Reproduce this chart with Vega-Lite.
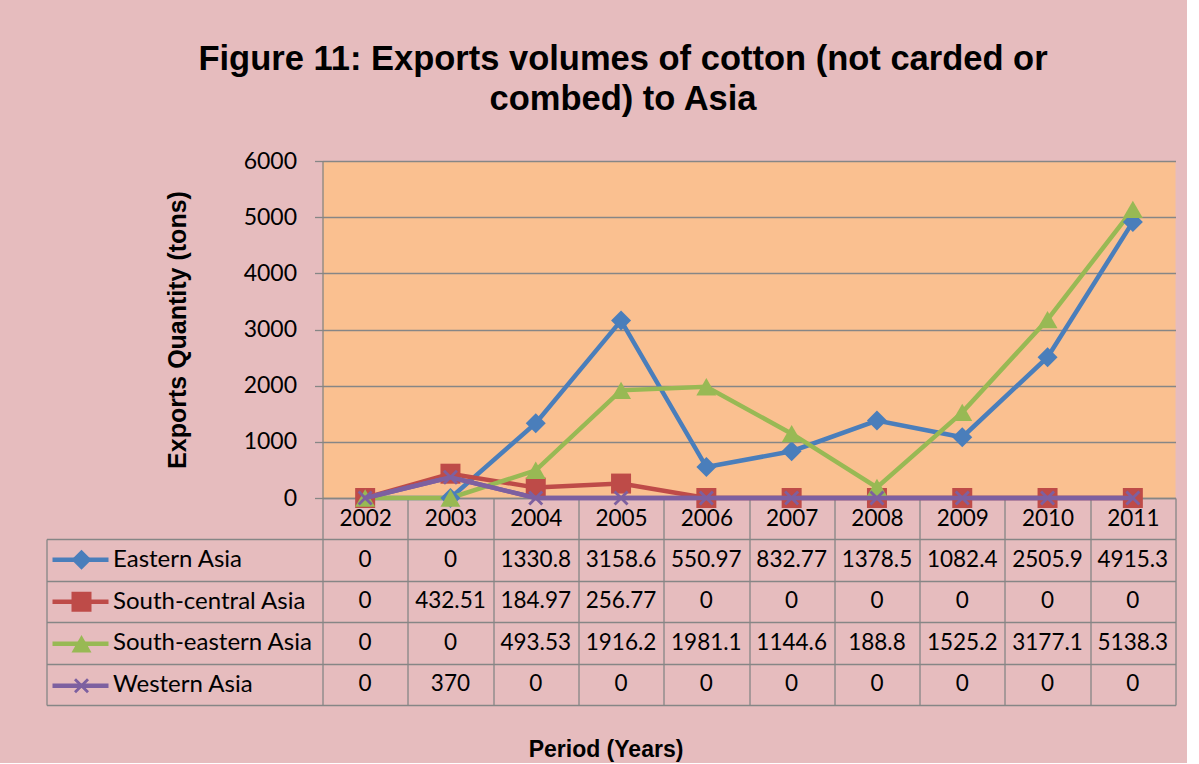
{
  "$schema": "https://vega.github.io/schema/vega-lite/v6.json",
  "background": "#e6bcbe",
  "padding": {"left": 45.5, "top": 41, "right": 10, "bottom": 2},
  "bounds": "flush",
  "spacing": 41,
  "title": {
    "text": ["Figure 11: Exports volumes of cotton (not carded or", "combed) to Asia"],
    "font": "Liberation Sans",
    "fontSize": 34.5,
    "fontWeight": "bold",
    "color": "#000000",
    "lineHeight": 40,
    "anchor": "middle",
    "dx": 12,
    "offset": 33
  },
  "datasets": {
    "rows": [
      {"year": "2002", "series": "Eastern Asia", "value": 0},
      {"year": "2003", "series": "Eastern Asia", "value": 0},
      {"year": "2004", "series": "Eastern Asia", "value": 1330.8},
      {"year": "2005", "series": "Eastern Asia", "value": 3158.6},
      {"year": "2006", "series": "Eastern Asia", "value": 550.97},
      {"year": "2007", "series": "Eastern Asia", "value": 832.77},
      {"year": "2008", "series": "Eastern Asia", "value": 1378.5},
      {"year": "2009", "series": "Eastern Asia", "value": 1082.4},
      {"year": "2010", "series": "Eastern Asia", "value": 2505.9},
      {"year": "2011", "series": "Eastern Asia", "value": 4915.3},
      {"year": "2002", "series": "South-central Asia", "value": 0},
      {"year": "2003", "series": "South-central Asia", "value": 432.51},
      {"year": "2004", "series": "South-central Asia", "value": 184.97},
      {"year": "2005", "series": "South-central Asia", "value": 256.77},
      {"year": "2006", "series": "South-central Asia", "value": 0},
      {"year": "2007", "series": "South-central Asia", "value": 0},
      {"year": "2008", "series": "South-central Asia", "value": 0},
      {"year": "2009", "series": "South-central Asia", "value": 0},
      {"year": "2010", "series": "South-central Asia", "value": 0},
      {"year": "2011", "series": "South-central Asia", "value": 0},
      {"year": "2002", "series": "South-eastern Asia", "value": 0},
      {"year": "2003", "series": "South-eastern Asia", "value": 0},
      {"year": "2004", "series": "South-eastern Asia", "value": 493.53},
      {"year": "2005", "series": "South-eastern Asia", "value": 1916.2},
      {"year": "2006", "series": "South-eastern Asia", "value": 1981.1},
      {"year": "2007", "series": "South-eastern Asia", "value": 1144.6},
      {"year": "2008", "series": "South-eastern Asia", "value": 188.8},
      {"year": "2009", "series": "South-eastern Asia", "value": 1525.2},
      {"year": "2010", "series": "South-eastern Asia", "value": 3177.1},
      {"year": "2011", "series": "South-eastern Asia", "value": 5138.3},
      {"year": "2002", "series": "Western Asia", "value": 0},
      {"year": "2003", "series": "Western Asia", "value": 370},
      {"year": "2004", "series": "Western Asia", "value": 0},
      {"year": "2005", "series": "Western Asia", "value": 0},
      {"year": "2006", "series": "Western Asia", "value": 0},
      {"year": "2007", "series": "Western Asia", "value": 0},
      {"year": "2008", "series": "Western Asia", "value": 0},
      {"year": "2009", "series": "Western Asia", "value": 0},
      {"year": "2010", "series": "Western Asia", "value": 0},
      {"year": "2011", "series": "Western Asia", "value": 0}
    ]
  },
  "config": {
    "font": "Lato",
    "view": {"stroke": null},
    "axis": {"labelFont": "Lato", "labelColor": "#000000", "titleColor": "#000000"}
  },
  "vconcat": [
    {
      "width": 853,
      "height": 337,
      "data": {"name": "rows"},
      "view": {"fill": "#FAC090", "stroke": null},
      "encoding": {
        "x": {
          "field": "year",
          "type": "ordinal",
          "scale": {"type": "band", "paddingInner": 0, "paddingOuter": 0},
          "axis": {
            "title": null,
            "labelAngle": 0,
            "labelFontSize": 22.5,
            "labelBaseline": "middle",
            "labelPadding": -20.5,
            "tickBand": "extent",
            "tickSize": 41,
            "tickColor": "#868686",
            "tickWidth": 1.3,
            "domainColor": "#868686",
            "domainWidth": 1.3,
            "grid": false
          }
        },
        "y": {
          "field": "value",
          "type": "quantitative",
          "scale": {"domain": [0, 6000]},
          "axis": {
            "title": "Exports Quantity (tons)",
            "titleFont": "Liberation Sans",
            "titleFontSize": 25,
            "titleFontWeight": "bold",
            "titlePadding": 53,
            "values": [0, 1000, 2000, 3000, 4000, 5000, 6000],
            "format": "d",
            "labelFontSize": 23,
            "labelPadding": 18,
            "tickSize": 8,
            "tickColor": "#868686",
            "tickWidth": 1.3,
            "domainColor": "#868686",
            "domainWidth": 1.3,
            "grid": true,
            "gridColor": "#868686",
            "gridWidth": 1.3,
            "gridOpacity": 1
          }
        }
      },
      "layer": [
        {
          "mark": {"type": "line", "strokeWidth": 4.5},
          "encoding": {
            "color": {
              "field": "series",
              "type": "nominal",
              "scale": {
                "domain": ["Eastern Asia", "South-central Asia", "South-eastern Asia", "Western Asia"],
                "range": ["#4A7EBB", "#BE4B48", "#98B954", "#7D60A0"]
              },
              "legend": {
                "orient": "none",
                "legendX": -272.5,
                "legendY": 378,
                "title": null,
                "symbolType": "stroke",
                "symbolSize": 3136,
                "symbolStrokeWidth": 4.5,
                "labelFontSize": 22,
                "labelExpr": "''",
                "clipHeight": 41.5,
                "rowPadding": 0
              }
            }
          }
        },
        {
          "mark": {"type": "point", "filled": true, "opacity": 1, "size": 400},
          "encoding": {
            "fill": {
              "field": "series",
              "type": "nominal",
              "scale": {"range": ["#4A7EBB", "#BE4B48", "#98B954", "#7D60A0"]},
              "legend": {
                "orient": "none",
                "legendX": -252,
                "legendY": 378,
                "title": null,
                "symbolSize": 400,
                "symbolStrokeWidth": 0,
                "symbolOpacity": 1,
                "labelFontSize": 22,
                "labelExpr": "''",
                "clipHeight": 41.5,
                "rowPadding": 0
              }
            },
            "shape": {
              "field": "series",
              "type": "nominal",
              "scale": {
                "range": [
                  "diamond",
                  "square",
                  "triangle-up",
                  "M-0.75,-0.55L-0.55,-0.75L0,-0.2L0.55,-0.75L0.75,-0.55L0.2,0L0.75,0.55L0.55,0.75L0,0.2L-0.55,0.75L-0.75,0.55L-0.2,0Z"
                ]
              },
              "legend": {
                "orient": "none",
                "legendX": -252,
                "legendY": 378,
                "title": null,
                "symbolSize": 400,
                "symbolStrokeWidth": 0,
                "symbolOpacity": 1,
                "labelFontSize": 22,
                "labelExpr": "''",
                "clipHeight": 41.5,
                "rowPadding": 0
              }
            }
          }
        },
        {
          "transform": [{"filter": "datum.series === 'Western Asia'"}],
          "mark": {"type": "line", "strokeWidth": 4.5, "color": "#7D60A0"},
          "encoding": {}
        }
      ]
    },
    {
      "width": 853,
      "height": 166,
      "data": {"name": "rows"},
      "layer": [
        {
          "mark": {"type": "text", "font": "Lato", "fontSize": 22.5, "color": "#000000"},
          "encoding": {
            "x": {
              "field": "year",
              "type": "ordinal",
              "scale": {"type": "band", "paddingInner": 0, "paddingOuter": 0},
              "axis": {
                "labels": false,
                "ticks": false,
                "domain": false,
                "grid": true,
                "tickBand": "extent",
                "gridColor": "#868686",
                "gridWidth": 1.3,
                "gridOpacity": 1,
                "title": "Period (Years)",
                "titleFont": "Liberation Sans",
                "titleFontSize": 23,
                "titleFontWeight": "bold",
                "titlePadding": 33,
                "titleX": 283
              }
            },
            "y": {
              "field": "series",
              "type": "nominal",
              "scale": {
                "type": "band",
                "domain": ["Eastern Asia", "South-central Asia", "South-eastern Asia", "Western Asia"],
                "paddingInner": 0,
                "paddingOuter": 0
              },
              "axis": {
                "title": null,
                "domain": false,
                "grid": true,
                "gridColor": "#868686",
                "gridWidth": 1.3,
                "gridOpacity": 1,
                "tickBand": "extent",
                "tickSize": 276,
                "tickColor": "#868686",
                "tickWidth": 1.3,
                "labelAlign": "left",
                "labelBaseline": "middle",
                "labelPadding": -66,
                "labelFontSize": 24,
                "labelLimit": 320
              }
            },
            "text": {"field": "value", "type": "quantitative", "format": ".5~g"}
          }
        },
        {
          "mark": {"type": "text", "text": ""},
          "encoding": {
            "y": {
              "field": "series",
              "type": "nominal",
              "axis": {
                "orient": "left",
                "offset": 276,
                "title": null,
                "domain": true,
                "domainColor": "#868686",
                "domainWidth": 1.3,
                "ticks": false,
                "labels": false,
                "grid": false
              }
            }
          }
        }
      ],
      "resolve": {"axis": {"y": "independent"}}
    }
  ]
}
